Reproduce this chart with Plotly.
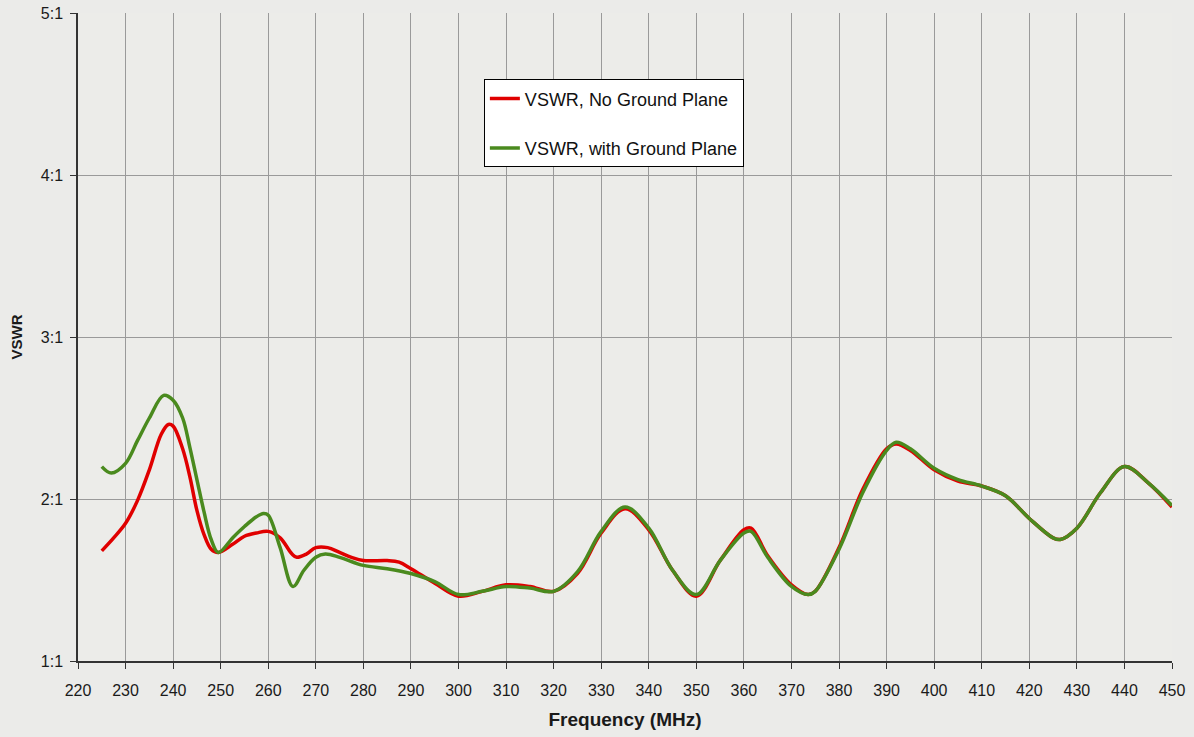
import plotly.graph_objects as go

freq_no_gp = [225, 227.5, 230, 232.5, 235, 237.5, 239, 240, 242, 243.5, 245, 246.5, 248, 249.5, 252.5, 255,
              257.5, 260, 262.5, 265, 266, 268, 270, 272.5, 275, 277.5, 280, 285, 287.5, 290, 295, 300, 305,
              310, 315, 320, 325, 330, 335, 340, 345, 350, 355, 360, 361.5, 365, 370, 373.5, 375, 380, 385,
              390, 392, 395, 400, 405, 410, 415, 420, 425, 426.5, 430, 435, 440, 445, 450]
vswr_no_gp = [1.68, 1.76, 1.85, 1.99, 2.18, 2.40, 2.46, 2.45, 2.31, 2.14, 1.93, 1.78, 1.69, 1.67, 1.72, 1.77,
              1.79, 1.80, 1.76, 1.66, 1.64, 1.66, 1.70, 1.70, 1.67, 1.64, 1.62, 1.62, 1.61, 1.57, 1.48, 1.40,
              1.43, 1.47, 1.46, 1.43, 1.54, 1.79, 1.94, 1.81, 1.56, 1.40, 1.62, 1.81, 1.82, 1.65, 1.47, 1.41,
              1.43, 1.70, 2.06, 2.31, 2.34, 2.30, 2.18, 2.11, 2.08, 2.02, 1.88, 1.76, 1.75, 1.82, 2.04, 2.20,
              2.10, 1.95]

freq_gp = [225, 227, 230, 232.5, 235, 238, 240, 242, 243.5, 245, 246.5, 248, 249.5, 252.5, 255, 257.5, 259,
           260, 262.5, 265.2, 267.5, 270, 272, 275, 280, 285, 290, 295, 300, 305, 310, 315, 320, 325, 330,
           335, 340, 345, 350, 355, 360, 361.5, 365, 370, 373.5, 375, 380, 385, 390, 392, 395, 400, 405, 410,
           415, 420, 425, 426.5, 430, 435, 440, 445, 450]
vswr_gp = [2.20, 2.16, 2.22, 2.36, 2.50, 2.64, 2.61, 2.50, 2.32, 2.12, 1.92, 1.75, 1.67, 1.76, 1.83, 1.89,
           1.91, 1.90, 1.70, 1.46, 1.56, 1.64, 1.66, 1.64, 1.59, 1.57, 1.54, 1.49, 1.41, 1.43, 1.46, 1.45,
           1.43, 1.55, 1.80, 1.95, 1.82, 1.56, 1.41, 1.62, 1.79, 1.80, 1.64, 1.46, 1.41, 1.43, 1.69, 2.04,
           2.30, 2.35, 2.31, 2.19, 2.12, 2.08, 2.02, 1.88, 1.76, 1.75, 1.82, 2.04, 2.20, 2.10, 1.96]

y_tickvals = [1, 2, 3, 4, 5]
y_ticktext = ["1:1", "2:1", "3:1", "4:1", "5:1"]

BG = "#ebebe9"
FAM = "Liberation Sans, Arial, sans-serif"

fig = go.Figure()
fig.add_trace(go.Scatter(x=freq_no_gp, y=vswr_no_gp, mode="lines", name="VSWR, No Ground Plane",
                         legendgroup="a",
                         line=dict(color="#e00000", width=3.5, shape="spline", smoothing=1.0)))
fig.add_trace(go.Scatter(x=freq_gp, y=vswr_gp, mode="lines", name="VSWR, with Ground Plane",
                         legendgroup="b",
                         line=dict(color="#4a8a1e", width=3.5, shape="spline", smoothing=1.0)))

fig.update_layout(
    width=1194, height=737,
    margin=dict(l=78, r=22, t=13, b=76, pad=0),
    paper_bgcolor=BG, plot_bgcolor="#ecece9",
    font=dict(family=FAM, size=16, color="#1a1a1a"),
    showlegend=True,
    legend=dict(x=0.371, y=0.8975, xanchor="left", yanchor="top",
                bgcolor="white", bordercolor="black", borderwidth=1,
                tracegroupgap=23, font=dict(family=FAM, size=18, color="#111"),
                itemwidth=30),
    xaxis=dict(range=[220, 450], dtick=10, tick0=220, showgrid=True, gridcolor="#9a9a9a", gridwidth=1,
               showline=True, linecolor="#333", linewidth=1.5, ticks="outside", ticklen=6, tickcolor="#333",
               zeroline=False, automargin=False, tickfont=dict(size=16), ticklabelstandoff=8,
               title=dict(text="<b>Frequency (MHz)</b>", font=dict(size=19))),
    yaxis=dict(range=[1, 5], tickvals=y_tickvals, ticktext=y_ticktext, showgrid=True, gridcolor="#9a9a9a",
               gridwidth=1, showline=True, linecolor="#333", linewidth=1.5, ticks="outside", ticklen=6,
               tickcolor="#333", zeroline=False, automargin=False, tickfont=dict(size=16), ticklabelstandoff=4,
               title=dict(text="<b>VSWR</b>", font=dict(size=15))),
)
fig.write_html("out.html", config={"displayModeBar": False},
               post_script="document.body.style.margin='0';document.body.style.background='" + BG + "';"
                           "document.documentElement.style.overflow='hidden';")
